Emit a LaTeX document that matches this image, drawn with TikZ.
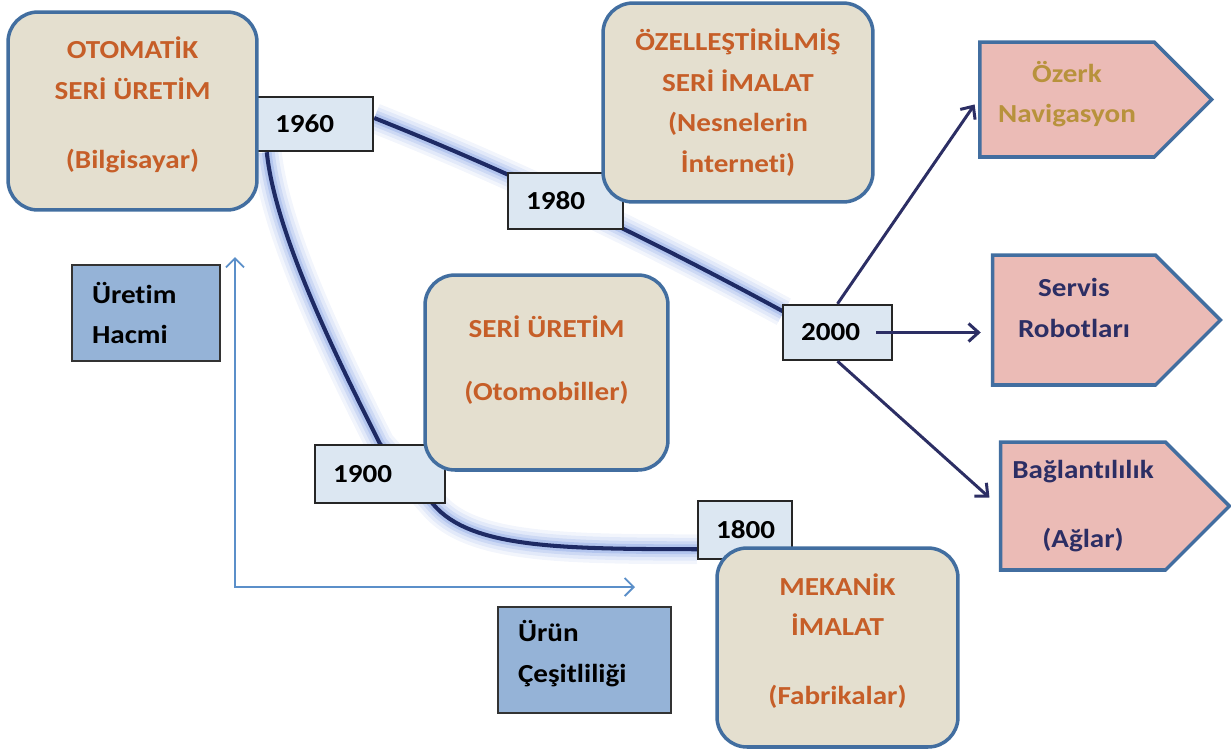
\documentclass[tikz,border=0pt]{standalone}
\usepackage{fontspec}
\setmainfont{Carlito}[FakeStretch=1.12, Ligatures=NoCommon]
\usepackage{tikz}
\usetikzlibrary{arrows.meta,shapes.symbols,calc}
\pgfdeclarelayer{background}
\pgfsetlayers{background,main}

\definecolor{boxfill}{RGB}{228,223,207}
\definecolor{boxline}{RGB}{66,110,160}
\definecolor{boxtext}{RGB}{198,94,40}
\definecolor{yearfill}{RGB}{220,231,242}
\definecolor{axisfill}{RGB}{149,179,215}
\definecolor{signfill}{RGB}{235,187,182}
\definecolor{navytext}{RGB}{44,46,100}
\definecolor{goldtext}{RGB}{184,146,60}
\definecolor{axisblue}{RGB}{91,143,201}
\definecolor{glowblue}{RGB}{130,160,228}
\definecolor{curveblue}{RGB}{30,42,100}

\newcommand{\labelfont}{\bfseries\fontsize{14.8}{23}\selectfont}

\tikzset{
    era/.style={draw=boxline, line width=2pt, fill=boxfill, rounded corners=0.6cm,
        text=boxtext, align=center, font=\labelfont},
    yearbox/.style={draw=black!85, line width=1.4pt, fill=yearfill, inner xsep=0.36cm,
        align=left, font=\labelfont},
    axislabel/.style={draw=black!80, line width=1.4pt, fill=axisfill, inner xsep=0.4cm,
        align=left, font=\labelfont},
    trendbox/.style={shape=signal, signal to=east, signal pointer angle=90,
        draw=boxline, line width=2pt, fill=signfill, align=center, font=\labelfont},
    trendcurve/.style={draw=curveblue, line width=2.3pt,
        preaction={draw=glowblue, opacity=0.1, line width=17pt},
        preaction={draw=glowblue, opacity=0.15, line width=13pt},
        preaction={draw=glowblue, opacity=0.22, line width=9pt},
        preaction={draw=glowblue, opacity=0.35, line width=5.5pt}},
    branch/.style={draw=navytext, line width=1.7pt,
        -{Straight Barb[length=0.2cm, width=0.36cm]}},
    axisline/.style={draw=axisblue, line width=1.1pt,
        {Straight Barb[length=0.18cm, width=0.36cm]}-{Straight Barb[length=0.18cm, width=0.36cm]}}
}

\begin{document}
\begin{tikzpicture}[x=0.02cm, y=-0.02cm]

    \useasboundingbox (0,0) rectangle (1231,752);

    % year boxes on the curve
    \node[yearbox, text width=1.60cm, minimum height=1.08cm] (y1960) at (315,124) {1960};
    \node[yearbox, text width=1.58cm, minimum height=1.12cm] (y1980) at (565.5,201) {1980};
    \node[yearbox, text width=1.46cm, minimum height=1.10cm] (y2000) at (837.5,332.5) {2000};
    \node[yearbox, text width=1.88cm, minimum height=1.16cm] (y1900) at (380,474) {1900};
    \node[yearbox, text width=1.16cm, minimum height=1.16cm] (y1800) at (745,530) {1800};

    % the curve through the years
    \begin{pgfonlayer}{background}
        \draw[trendcurve] ($(y1960.south west)+(11,0)$)
            .. controls (275,230) and (330,345) .. (y1900.north)
            -- ($(y1900.south east)+(-13,0)$)
            .. controls (470,548) and (560,549) .. ($(y1800.south west)+(0,-11)$);
        \draw[trendcurve] ($(y1960.east)+(0,-6)$)
            .. controls (510,172) and (646,237) .. ($(y2000.north west)+(2,8)$);
    \end{pgfonlayer}

    % production eras (the trailing empty line lifts the text a little)
    \node[era, minimum width=4.98cm, minimum height=3.96cm] (otomatik) at (132.5,111)
        {OTOMATİK\\SERİ ÜRETİM\\[16.4pt](Bilgisayar)\\[-13.6pt]\mbox{}};
    \node[era, minimum width=5.40cm, minimum height=3.98cm] (ozel) at (738,102.5)
        {ÖZELLEŞTİRİLMİŞ\\SERİ İMALAT\\(Nesnelerin\\İnterneti)};
    \node[era, minimum width=4.86cm, minimum height=3.90cm] (seri) at (546.5,372.5)
        {SERİ ÜRETİM\\[13pt](Otomobiller)\\[-6.8pt]\mbox{}};
    \node[era, minimum width=4.82cm, minimum height=3.98cm] (mekanik) at (837.5,647.5)
        {MEKANİK\\İMALAT\\[16pt](Fabrikalar)\\[-13.1pt]\mbox{}};

    % future trends
    \node[trendbox, text=goldtext, minimum width=4.64cm, minimum height=2.30cm] (ozerk) at (1067,99.5)
        {Özerk\\Navigasyon\\[-14.3pt]\mbox{}};
    \node[trendbox, text=navytext, minimum width=4.56cm, minimum height=2.60cm] (servis) at (1074,320)
        {Servis\\Robotları\\[-9.4pt]\mbox{}};
    \node[trendbox, text=navytext, minimum width=4.58cm, minimum height=2.56cm] (baglanti) at (1083,506)
        {Bağlantılılık\\[16.4pt](Ağlar)};

    \draw[branch, shorten >=0.12cm] (y2000.north) -- (ozerk.west);
    \draw[branch, shorten >=0.2cm] ($(y2000.east)+(-17,0)$) -- (y2000.east -| servis.west);
    \draw[branch, shorten >=0.25cm] (y2000.south) -- (baglanti.west);

    % axes
    \node[axislabel, text width=2.16cm, minimum height=1.92cm] (hacim) at (146,313)
        {Üretim\\Hacmi};
    \node[axislabel, text width=2.66cm, minimum height=2.12cm] (cesit) at (584.5,660)
        {Ürün\\Çeşitliliği\\[-13.2pt]\mbox{}};
    \coordinate (ytop) at (235,257);
    \coordinate (xend) at (635,587);
    \draw[axisline] (ytop) |- (xend);

\end{tikzpicture}
\end{document}
